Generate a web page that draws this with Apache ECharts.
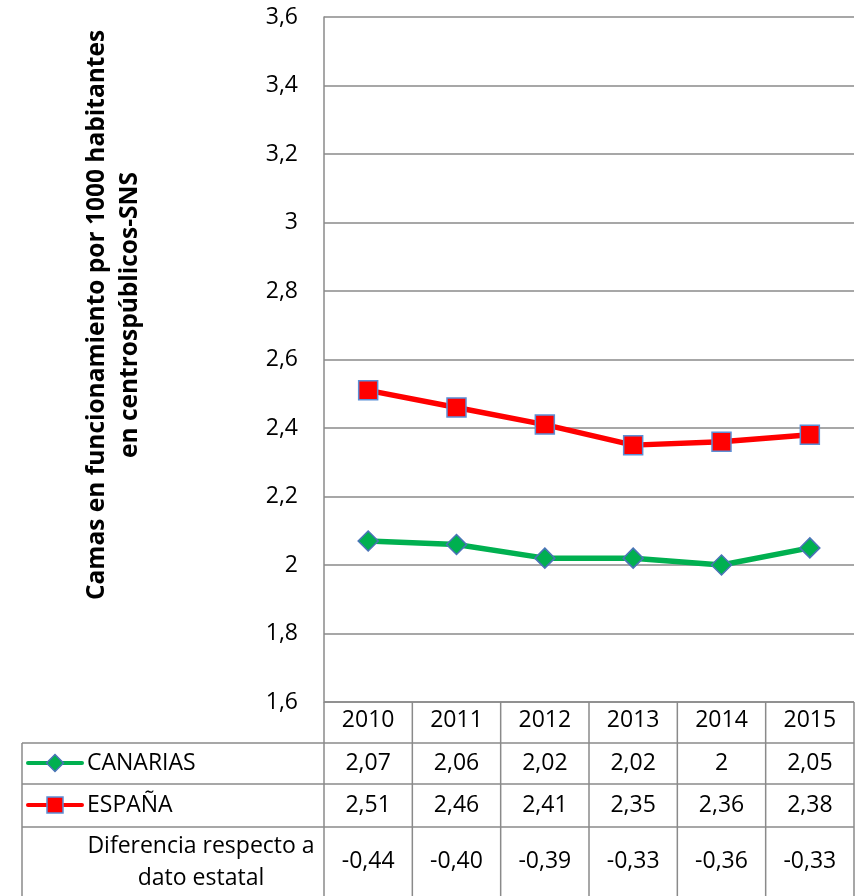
<!DOCTYPE html>
<html>
<head>
<meta charset="utf-8">
<script src="https://cdn.jsdelivr.net/npm/echarts@6/dist/echarts.min.js"></script>
<style>
    html, body {margin: 0; padding: 0; background: #fff;}
    #chart {width: 859px; height: 896px;}
</style>
</head>
<body>
<div id="chart"></div>
<script>
var years = ['2010', '2011', '2012', '2013', '2014', '2015'];
var canarias = [2.07, 2.06, 2.02, 2.02, 2, 2.05];
var espana = [2.51, 2.46, 2.41, 2.35, 2.36, 2.38];
var diferencia = [-0.44, -0.40, -0.39, -0.33, -0.36, -0.33];
var rowNames = ['CANARIAS', 'ESPAÑA', 'Diferencia respecto a\ndato estatal'];
var yTitle = 'Camas en funcionamiento por 1000 habitantes\nen centrospúblicos-SNS';

var font = '"Open Sans", Lato, sans-serif';
var fs = 23;
var gray = '#8a8a8a';
var green = '#00b050';
var red = '#ff0000';
var markerBorder = '#4a73b8';

// plot / table layout
var plotLeft = 324, plotRight = 854, plotTop = 17, plotBottom = 702;
var tableLeft = 22;
var rowLines = [702, 743, 784, 827];
var tableBottom = 896;

function fmt(v) {
    return String(v).replace('.', ',');
}

var myChart = echarts.init(document.getElementById('chart'));

myChart.setOption({
    animation: false,
    grid: {
        left: plotLeft,
        right: 859 - plotRight,
        top: plotTop,
        bottom: 896 - plotBottom
    },
    xAxis: {
        type: 'category',
        data: years,
        boundaryGap: true,
        axisLine: {show: false},
        axisTick: {show: false},
        axisLabel: {
            margin: 7,
            fontSize: fs,
            fontFamily: font,
            color: '#000'
        }
    },
    yAxis: {
        type: 'value',
        min: 1.6,
        max: 3.6,
        interval: 0.2,
        axisLine: {show: true, lineStyle: {color: gray, width: 1.5}},
        axisTick: {show: false},
        splitLine: {lineStyle: {color: gray, width: 1.5}},
        axisLabel: {
            margin: 26,
            fontSize: fs,
            fontFamily: font,
            color: '#000',
            formatter: function (v) {
                return fmt(Number(v.toFixed(1)));
            }
        }
    },
    series: [
        {
            name: 'CANARIAS',
            type: 'line',
            data: canarias,
            symbol: 'diamond',
            symbolSize: 20,
            lineStyle: {color: green, width: 5.5},
            itemStyle: {color: green, borderColor: markerBorder, borderWidth: 1.5},
            z: 3
        },
        {
            name: 'ESPAÑA',
            type: 'line',
            data: espana,
            symbol: 'rect',
            symbolSize: 19,
            lineStyle: {color: red, width: 5.5},
            itemStyle: {color: red, borderColor: '#5b8fd6', borderWidth: 1.5},
            z: 4
        }
    ]
});

// data table below the plot
var g = [];
var colW = (plotRight - plotLeft) / years.length;

// borders
g.push({type: 'line', shape: {x1: plotLeft, y1: rowLines[0], x2: plotRight, y2: rowLines[0]}, style: {stroke: gray, lineWidth: 1.5}});
for (var r = 1; r < rowLines.length; r++) {
    g.push({type: 'line', shape: {x1: tableLeft, y1: rowLines[r], x2: plotRight, y2: rowLines[r]}, style: {stroke: gray, lineWidth: 1.5}});
}
g.push({type: 'line', shape: {x1: tableLeft, y1: rowLines[1], x2: tableLeft, y2: tableBottom}, style: {stroke: gray, lineWidth: 1.5}});
for (var c = 0; c <= years.length; c++) {
    var lx = plotLeft + colW * c;
    g.push({type: 'line', shape: {x1: lx, y1: rowLines[0], x2: lx, y2: tableBottom}, style: {stroke: gray, lineWidth: 1.5}});
}

// cell values
var rows = [
    canarias.map(fmt),
    espana.map(fmt),
    diferencia.map(function (v) { return v.toFixed(2).replace('.', ','); })
];
var rowMid = [763, 805, 861];
for (var i = 0; i < years.length; i++) {
    var cx = myChart.convertToPixel({xAxisIndex: 0}, i);
    for (var k = 0; k < rows.length; k++) {
        g.push({
            type: 'text', x: cx, y: rowMid[k],
            style: {text: rows[k][i], font: fs + 'px ' + font, fill: '#000', align: 'center', verticalAlign: 'middle'}
        });
    }
}

// row headers with legend keys
g.push({type: 'line', shape: {x1: 28, y1: 763, x2: 82, y2: 763}, style: {stroke: green, lineWidth: 4, lineCap: 'round'}});
g.push({type: 'polygon', shape: {points: [[55, 754.5], [63.5, 763], [55, 771.5], [46.5, 763]]}, style: {fill: green, stroke: markerBorder, lineWidth: 1.5}});
g.push({type: 'line', shape: {x1: 28, y1: 805, x2: 82, y2: 805}, style: {stroke: red, lineWidth: 4, lineCap: 'round'}});
g.push({type: 'rect', shape: {x: 47, y: 797, width: 16, height: 16}, style: {fill: red, stroke: '#5b8fd6', lineWidth: 1.5}});
g.push({type: 'text', x: 87, y: 763, style: {text: rowNames[0], font: fs + 'px ' + font, fill: '#000', verticalAlign: 'middle'}});
g.push({type: 'text', x: 87, y: 805, style: {text: rowNames[1], font: fs + 'px ' + font, fill: '#000', verticalAlign: 'middle'}});
g.push({type: 'text', x: 201, y: 862, style: {text: rowNames[2], font: fs + 'px ' + font, fill: '#000', align: 'center', verticalAlign: 'middle', lineHeight: 32}});

// rotated axis title
g.push({
    type: 'text', x: 114, y: 315, rotation: Math.PI / 2,
    style: {text: yTitle, font: 'bold 24.5px ' + font, fill: '#000', align: 'center', verticalAlign: 'middle', lineHeight: 33}
});

myChart.setOption({graphic: g});
</script>
</body>
</html>
